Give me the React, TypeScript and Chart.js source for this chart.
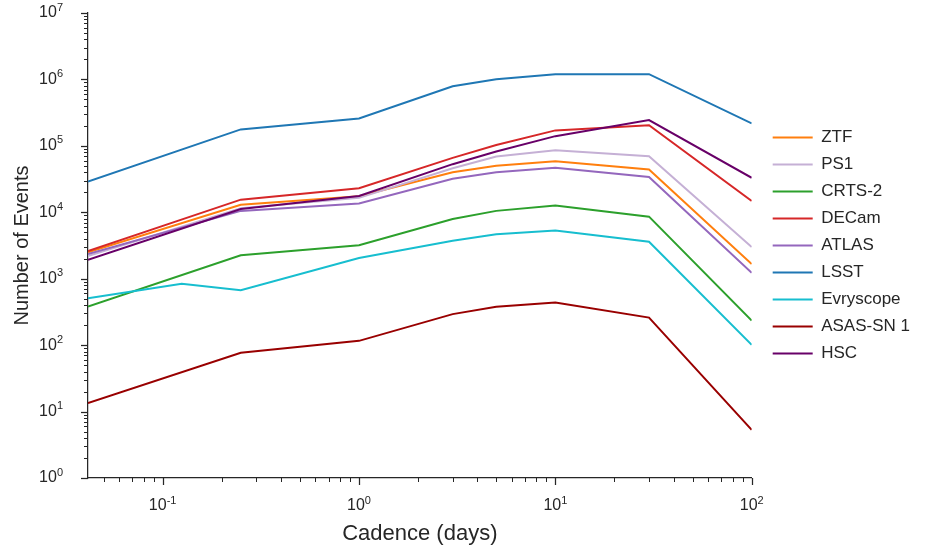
import React, { useEffect, useRef } from "react";
import { Chart, registerables } from "chart.js";

Chart.register(...registerables);

// ---- data ----
const cadenceDays = [1 / 24, 1 / 8, 1 / 4, 1, 3, 5, 10, 30, 100];

const surveyNames = ["ZTF", "PS1", "CRTS-2", "DECam", "ATLAS", "LSST", "Evryscope", "ASAS-SN 1", "HSC"];
const surveyColors = ["#ff7f0e", "#c5b0d5", "#2ca02c", "#d62728", "#9467bd", "#1f77b4", "#17becf", "#990000", "#680068"];

const ztf = [2500, null, 13000, 17500, 40000, 50000, 58500, 44000, 1660];
const ps1 = [2200, null, 11500, 16500, 46000, 69000, 86000, 70000, 3000];
const crts2 = [380, null, 2250, 3200, 7900, 10500, 12600, 8600, 235];
const decam = [2600, null, 15500, 23000, 66000, 103000, 171000, 205000, 14800];
const atlas = [2350, null, 10500, 13600, 32000, 40000, 47000, 34000, 1230];
const lsst = [29000, null, 177000, 259000, 790000, 1010000, 1200000, 1200000, 218000];
const evryscope = [510, 840, 670, 2050, 3740, 4670, 5300, 3600, 101];
const asassn1 = [13.4, null, 77, 116, 293, 377, 437, 260, 5.3];
const hsc = [1920, null, 11200, 17600, 53000, 82000, 140000, 244000, 33000];

const surveyValues = [ztf, ps1, crts2, decam, atlas, lsst, evryscope, asassn1, hsc];

// decades that carry minor ticks, and the labelled powers of ten
const xDecades = [-2, -1, 0, 1];
const yDecades = [0, 1, 2, 3, 4, 5, 6];
const xLabelExponents = [-1, 0, 1, 2];
const yLabelExponents = [0, 1, 2, 3, 4, 5, 6, 7];
const xMin = 1 / 24;
const xMax = 100;
const yMin = 1;
const yMax = 1e7;

const xTitle = "Cadence (days)";
const yTitle = "Number of Events";

// ---- style ----
const FONT = "'Liberation Sans', Arial, Helvetica, sans-serif";
const INK = "#262626";
const BASE_SIZE = 16;
const EXP_SIZE = 11;

function isPow10(v: number) {
  const e = Math.log10(v);
  return Math.abs(e - Math.round(e)) < 1e-6;
}
function logTicks(decades: number[], lo: number, hi: number) {
  const out: number[] = [];
  for (const d of decades) {
    for (let m = 1; m <= 9; m++) {
      const v = m * Math.pow(10, d);
      if (v >= lo * 0.999999 && v <= hi * 1.000001) out.push(v);
    }
  }
  const top = Math.pow(10, decades[decades.length - 1] + 1);
  if (top <= hi * 1.000001) out.push(top);
  return out;
}

const xTickValues = logTicks(xDecades, xMin, xMax);
const yTickValues = logTicks(yDecades, yMin, yMax);

const LEGEND_SHIFT = 11;

function drawPow(ctx: CanvasRenderingContext2D, exp: number, x: number, y: number, align: "center" | "right") {
  const base = "10";
  const sup = String(exp);
  ctx.font = `${BASE_SIZE}px ${FONT}`;
  const wb = ctx.measureText(base).width;
  ctx.font = `${EXP_SIZE}px ${FONT}`;
  const we = ctx.measureText(sup).width;
  const total = wb + we;
  const left = align === "center" ? x - total / 2 : x - total;
  ctx.textAlign = "left";
  ctx.font = `${BASE_SIZE}px ${FONT}`;
  ctx.textBaseline = "middle";
  ctx.fillText(base, left, y);
  ctx.font = `${EXP_SIZE}px ${FONT}`;
  ctx.textBaseline = "alphabetic";
  ctx.fillText(sup, left + wb, y - 2.5);
}

const axisDecorPlugin = {
  id: "axisDecor",
  afterLayout(chart: any) {
    if (chart.legend) {
      chart.legend.left += LEGEND_SHIFT;
      chart.legend.right += LEGEND_SHIFT;
    }
  },
  afterDraw(chart: any) {
    const ctx = chart.ctx as CanvasRenderingContext2D;
    const area = chart.chartArea;
    const xs = chart.scales.x;
    const ys = chart.scales.y;
    ctx.save();
    ctx.strokeStyle = INK;
    for (const t of xs.ticks) {
      const major = isPow10(t.value);
      ctx.lineWidth = major ? 1.25 : 1;
      const px = Math.round(xs.getPixelForValue(t.value)) + 0.5;
      ctx.beginPath();
      ctx.moveTo(px, area.bottom);
      ctx.lineTo(px, area.bottom + (major ? 7 : 4));
      ctx.stroke();
    }
    for (const t of ys.ticks) {
      const major = isPow10(t.value);
      ctx.lineWidth = major ? 1.25 : 1;
      const py = Math.round(ys.getPixelForValue(t.value)) + 0.5;
      ctx.beginPath();
      ctx.moveTo(area.left, py);
      ctx.lineTo(area.left - (major ? 7 : 4), py);
      ctx.stroke();
    }
    ctx.fillStyle = INK;
    for (const e of xLabelExponents) {
      const px = xs.getPixelForValue(Math.pow(10, e));
      drawPow(ctx, e, px, area.bottom + 28, "center");
    }
    for (const e of yLabelExponents) {
      const py = ys.getPixelForValue(Math.pow(10, e));
      drawPow(ctx, e, area.left - 25, py, "right");
    }
    ctx.restore();
  },
};

export default function App() {
  const canvasRef = useRef<HTMLCanvasElement | null>(null);

  useEffect(() => {
    const canvas = canvasRef.current;
    if (!canvas) return;
    const n = surveyNames.length;
    const datasets = surveyNames.map((name, i) => ({
      label: name,
      data: cadenceDays.map((x, j) => ({ x, y: surveyValues[i][j] })),
      borderColor: surveyColors[i],
      backgroundColor: surveyColors[i],
      borderWidth: 2,
      pointRadius: 0,
      fill: false,
      spanGaps: true,
      tension: 0,
      order: n - 1 - i,
    }));

    const chart = new Chart(canvas, {
      type: "line",
      data: { datasets } as any,
      plugins: [axisDecorPlugin as any],
      options: {
        responsive: false,
        animation: false,
        devicePixelRatio: 1,
        layout: { padding: { top: 13, right: 17, bottom: 0, left: 0 } },
        plugins: {
          tooltip: { enabled: false },
          legend: {
            position: "right",
            align: "center",
            fullSize: false,
            labels: {
              boxWidth: 40,
              boxHeight: 2,
              padding: 10,
              color: INK,
              font: { size: 17, family: FONT },
              sort: (a: any, b: any) => a.datasetIndex - b.datasetIndex,
              generateLabels: (c: any) => {
                const items = (Chart.defaults.plugins.legend.labels as any).generateLabels(c);
                return items.map((it: any) => ({ ...it, fillStyle: it.strokeStyle, lineWidth: 0 }));
              },
            },
          },
        },
        scales: {
          x: {
            type: "logarithmic",
            min: xMin,
            max: xMax,
            afterBuildTicks: (s: any) => {
              s.ticks = xTickValues.map((v) => ({ value: v, major: isPow10(v) }));
            },
            afterFit: (s: any) => {
              s.height = 74;
            },
            grid: { display: false, drawTicks: false },
            border: { display: true, color: INK, width: 1.25 },
            ticks: { display: false },
            title: {
              display: true,
              text: xTitle,
              color: INK,
              font: { size: 22, family: FONT },
              padding: { top: 0, bottom: 5 },
            },
          },
          y: {
            type: "logarithmic",
            min: yMin,
            max: yMax,
            afterBuildTicks: (s: any) => {
              s.ticks = yTickValues.map((v) => ({ value: v, major: isPow10(v) }));
            },
            afterFit: (s: any) => {
              s.width = 88;
            },
            grid: { display: false, drawTicks: false },
            border: { display: true, color: INK, width: 1.25 },
            ticks: { display: false },
            title: {
              display: true,
              text: yTitle,
              color: INK,
              font: { size: 20, family: FONT },
              padding: { top: 10, bottom: 0 },
            },
          },
        },
      } as any,
    });
    return () => chart.destroy();
  }, []);

  return (
    <div style={{ position: "fixed", left: 0, top: 0, width: 926, height: 552, background: "#fff" }}>
      <canvas ref={canvasRef} width={926} height={552} style={{ display: "block" }} />
    </div>
  );
}
